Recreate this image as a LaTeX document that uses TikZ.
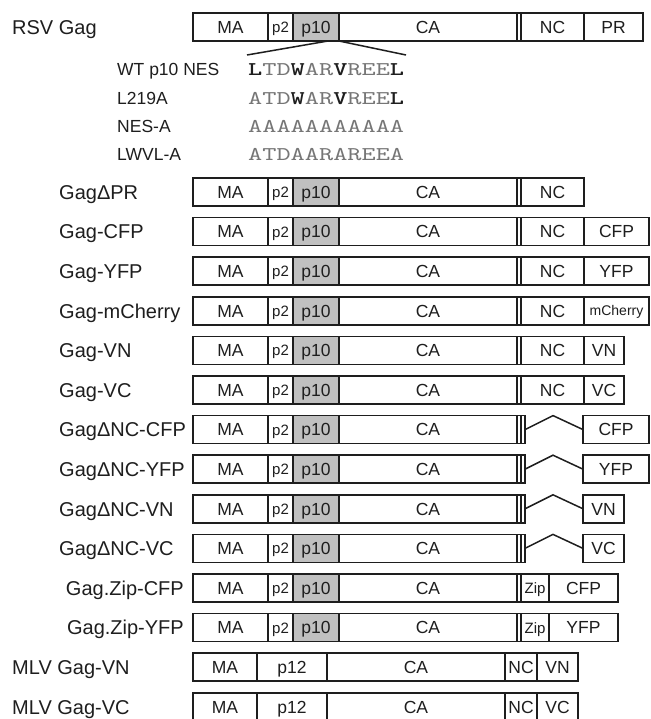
\documentclass[tikz,border=0pt]{standalone}
\usepackage{fontspec}
\setmainfont{Liberation Sans}
\newfontfamily\seqfont{lmmono10-regular.otf}[BoldFont=lmmonolt10-bold.otf]
\usepackage{graphicx}
\definecolor{pgray}{RGB}{192,192,192}
\definecolor{ink}{RGB}{30,30,30}
\definecolor{seqgray}{RGB}{118,118,118}
\tikzset{
 seg/.style={draw=ink, line width=1.5pt, minimum height=28pt, inner sep=0pt, outer sep=0pt,
   font=\fontsize{17.5}{17.5}\selectfont, text height=12.5pt, text depth=0pt, text=ink},
 small/.style={font=\fontsize{15}{15}\selectfont, text height=10.8pt},
 mch/.style={font=\fontsize{14}{14}\selectfont, text height=10pt},
 lab/.style={anchor=base west, inner sep=0pt, font=\fontsize{20}{20}\selectfont, text=ink},
 labr/.style={anchor=base east, inner sep=0pt, font=\fontsize{20}{20}\selectfont, text=ink},
 seqlab/.style={anchor=base west, inner sep=0pt, font=\fontsize{17.5}{17.5}\selectfont, text=ink},
 seqtxt/.style={anchor=base west, inner sep=0pt, text=seqgray},
 link/.style={draw=ink, line width=1.5pt},
}
\newcommand\sg[6]{\node[seg,#6,minimum width=#3pt-#2pt] (#1) at ({(#2+#3)/2},{#4+14}) {#5};}
\newcommand\rsvhead[2]{%
 \sg{#1ma}{193}{268}{#2}{MA}{}
 \sg{#1ptwo}{268}{293}{#2}{p2}{small}
 \sg{#1pten}{293}{339}{#2}{p10}{fill=pgray}
 \sg{#1ca}{339}{517}{#2}{CA}{}
 \sg{#1sp}{517}{521}{#2}{}{}
}
\newcommand\dnc[2]{% prefix, top
 \rsvhead{#1}{#2}
 \sg{#1spb}{521}{525}{#2}{}{}
}
\newcommand\mlv[2]{%
 \sg{#1ma}{193}{257}{#2}{MA}{}
 \sg{#1ptw}{257}{327}{#2}{p12}{}
 \sg{#1ca}{327}{505}{#2}{CA}{}
 \sg{#1nc}{505}{537}{#2}{NC}{}
}
\newcommand\B[1]{{\bfseries\color{ink}#1}}
\newcommand\seqbox[1]{\scalebox{1}[0.72]{\fontsize{27}{27}\seqfont #1}}
\begin{document}
\begin{tikzpicture}[x=1pt,y=-1pt]
\useasboundingbox (0,0) rectangle (650,719);
\fill[white] (0,0) rectangle (650,719);
% RSV Gag
\node[lab] (l0) at (12,34.2) {RSV Gag};
\rsvhead{r0}{13}
\sg{r0nc}{521}{584}{13}{NC}{}
\sg{r0pr}{584}{643}{13}{PR}{}
% zoom lines
\coordinate (zl) at (328,41);
\coordinate (zle) at (247,55);
\coordinate (zre) at (406,55);
\draw[link] (zl) -- (zle);
\draw[link] (r0pten.south east) -- (zre);
% sequences
\node[seqlab] (s1) at (117,76) {WT p10 NES};
\node[seqtxt] (q1) at (248,76) {\seqbox{\B{L}TD\B{W}AR\B{V}REE\B{L}}};
\node[seqlab] (s2) at (117,104.3) {L219A};
\node[seqtxt] (q2) at (248,104.3) {\seqbox{ATD\B{W}AR\B{V}REE\B{L}}};
\node[seqlab] (s3) at (117,132.6) {NES-A};
\node[seqtxt] (q3) at (248,132.6) {\seqbox{AAAAAAAAAAA}};
\node[seqlab] (s4) at (117,160.5) {LWVL-A};
\node[seqtxt] (q4) at (248,160.5) {\seqbox{ATDAARAREEA}};
% Gag dPR
\node[lab] (l1) at (59,199.2) {GagΔPR};
\rsvhead{a}{178}
\sg{anc}{521}{584}{178}{NC}{}
% Gag-CFP
\node[lab] (l2) at (59,238.8) {Gag-CFP};
\rsvhead{b}{217.6}
\sg{bnc}{521}{584}{217.6}{NC}{}
\sg{bfp}{584}{649}{217.6}{CFP}{}
% Gag-YFP
\node[lab] (l3) at (59,278.4) {Gag-YFP};
\rsvhead{c}{257.2}
\sg{cnc}{521}{584}{257.2}{NC}{}
\sg{cfp}{584}{649}{257.2}{YFP}{}
% Gag-mCherry
\node[lab] (l4) at (59,318) {Gag-mCherry};
\rsvhead{d}{296.8}
\sg{dnc}{521}{584}{296.8}{NC}{}
\sg{dfp}{584}{649}{296.8}{mCherry}{mch}
% Gag-VN
\node[lab] (l5) at (59,357.6) {Gag-VN};
\rsvhead{e}{336.4}
\sg{enc}{521}{584}{336.4}{NC}{}
\sg{efp}{584}{624}{336.4}{VN}{}
% Gag-VC
\node[lab] (l6) at (59,397.2) {Gag-VC};
\rsvhead{f}{376}
\sg{fnc}{521}{584}{376}{NC}{}
\sg{ffp}{584}{624}{376}{VC}{}
% dNC rows
\node[lab] (l7) at (59,436.8) {GagΔNC-CFP};
\dnc{g}{415.6}
\sg{gfp}{583}{649}{415.6}{CFP}{}
\draw[link] (gspb.east) -- (553,415.6) -- (gfp.west);
\node[lab] (l8) at (59,476.4) {GagΔNC-YFP};
\dnc{h}{455.2}
\sg{hfp}{583}{649}{455.2}{YFP}{}
\draw[link] (hspb.east) -- (553,455.2) -- (hfp.west);
\node[lab] (l9) at (59,516) {GagΔNC-VN};
\dnc{i}{494.8}
\sg{ifp}{583}{624}{494.8}{VN}{}
\draw[link] (ispb.east) -- (553,494.8) -- (ifp.west);
\node[lab] (l10) at (59,555.6) {GagΔNC-VC};
\dnc{j}{534.4}
\sg{jfp}{583}{624}{534.4}{VC}{}
\draw[link] (jspb.east) -- (553,534.4) -- (jfp.west);
% Zip rows
\node[labr] (l11) at (184,595.2) {Gag.Zip-CFP};
\rsvhead{k}{574}
\sg{kzip}{521}{549}{574}{Zip}{small}
\sg{kfp}{549}{618}{574}{CFP}{}
\node[labr] (l12) at (184,634.8) {Gag.Zip-YFP};
\rsvhead{m}{613.6}
\sg{mzip}{521}{549}{613.6}{Zip}{small}
\sg{mfp}{549}{618}{613.6}{YFP}{}
% MLV rows
\node[lab] (l13) at (12,674.4) {MLV Gag-VN};
\mlv{n}{653.2}
\sg{nfp}{537}{578}{653.2}{VN}{}
\node[lab] (l14) at (12,714) {MLV Gag-VC};
\mlv{o}{692.8}
\sg{ofp}{537}{578}{692.8}{VC}{}
\end{tikzpicture}
\end{document}
